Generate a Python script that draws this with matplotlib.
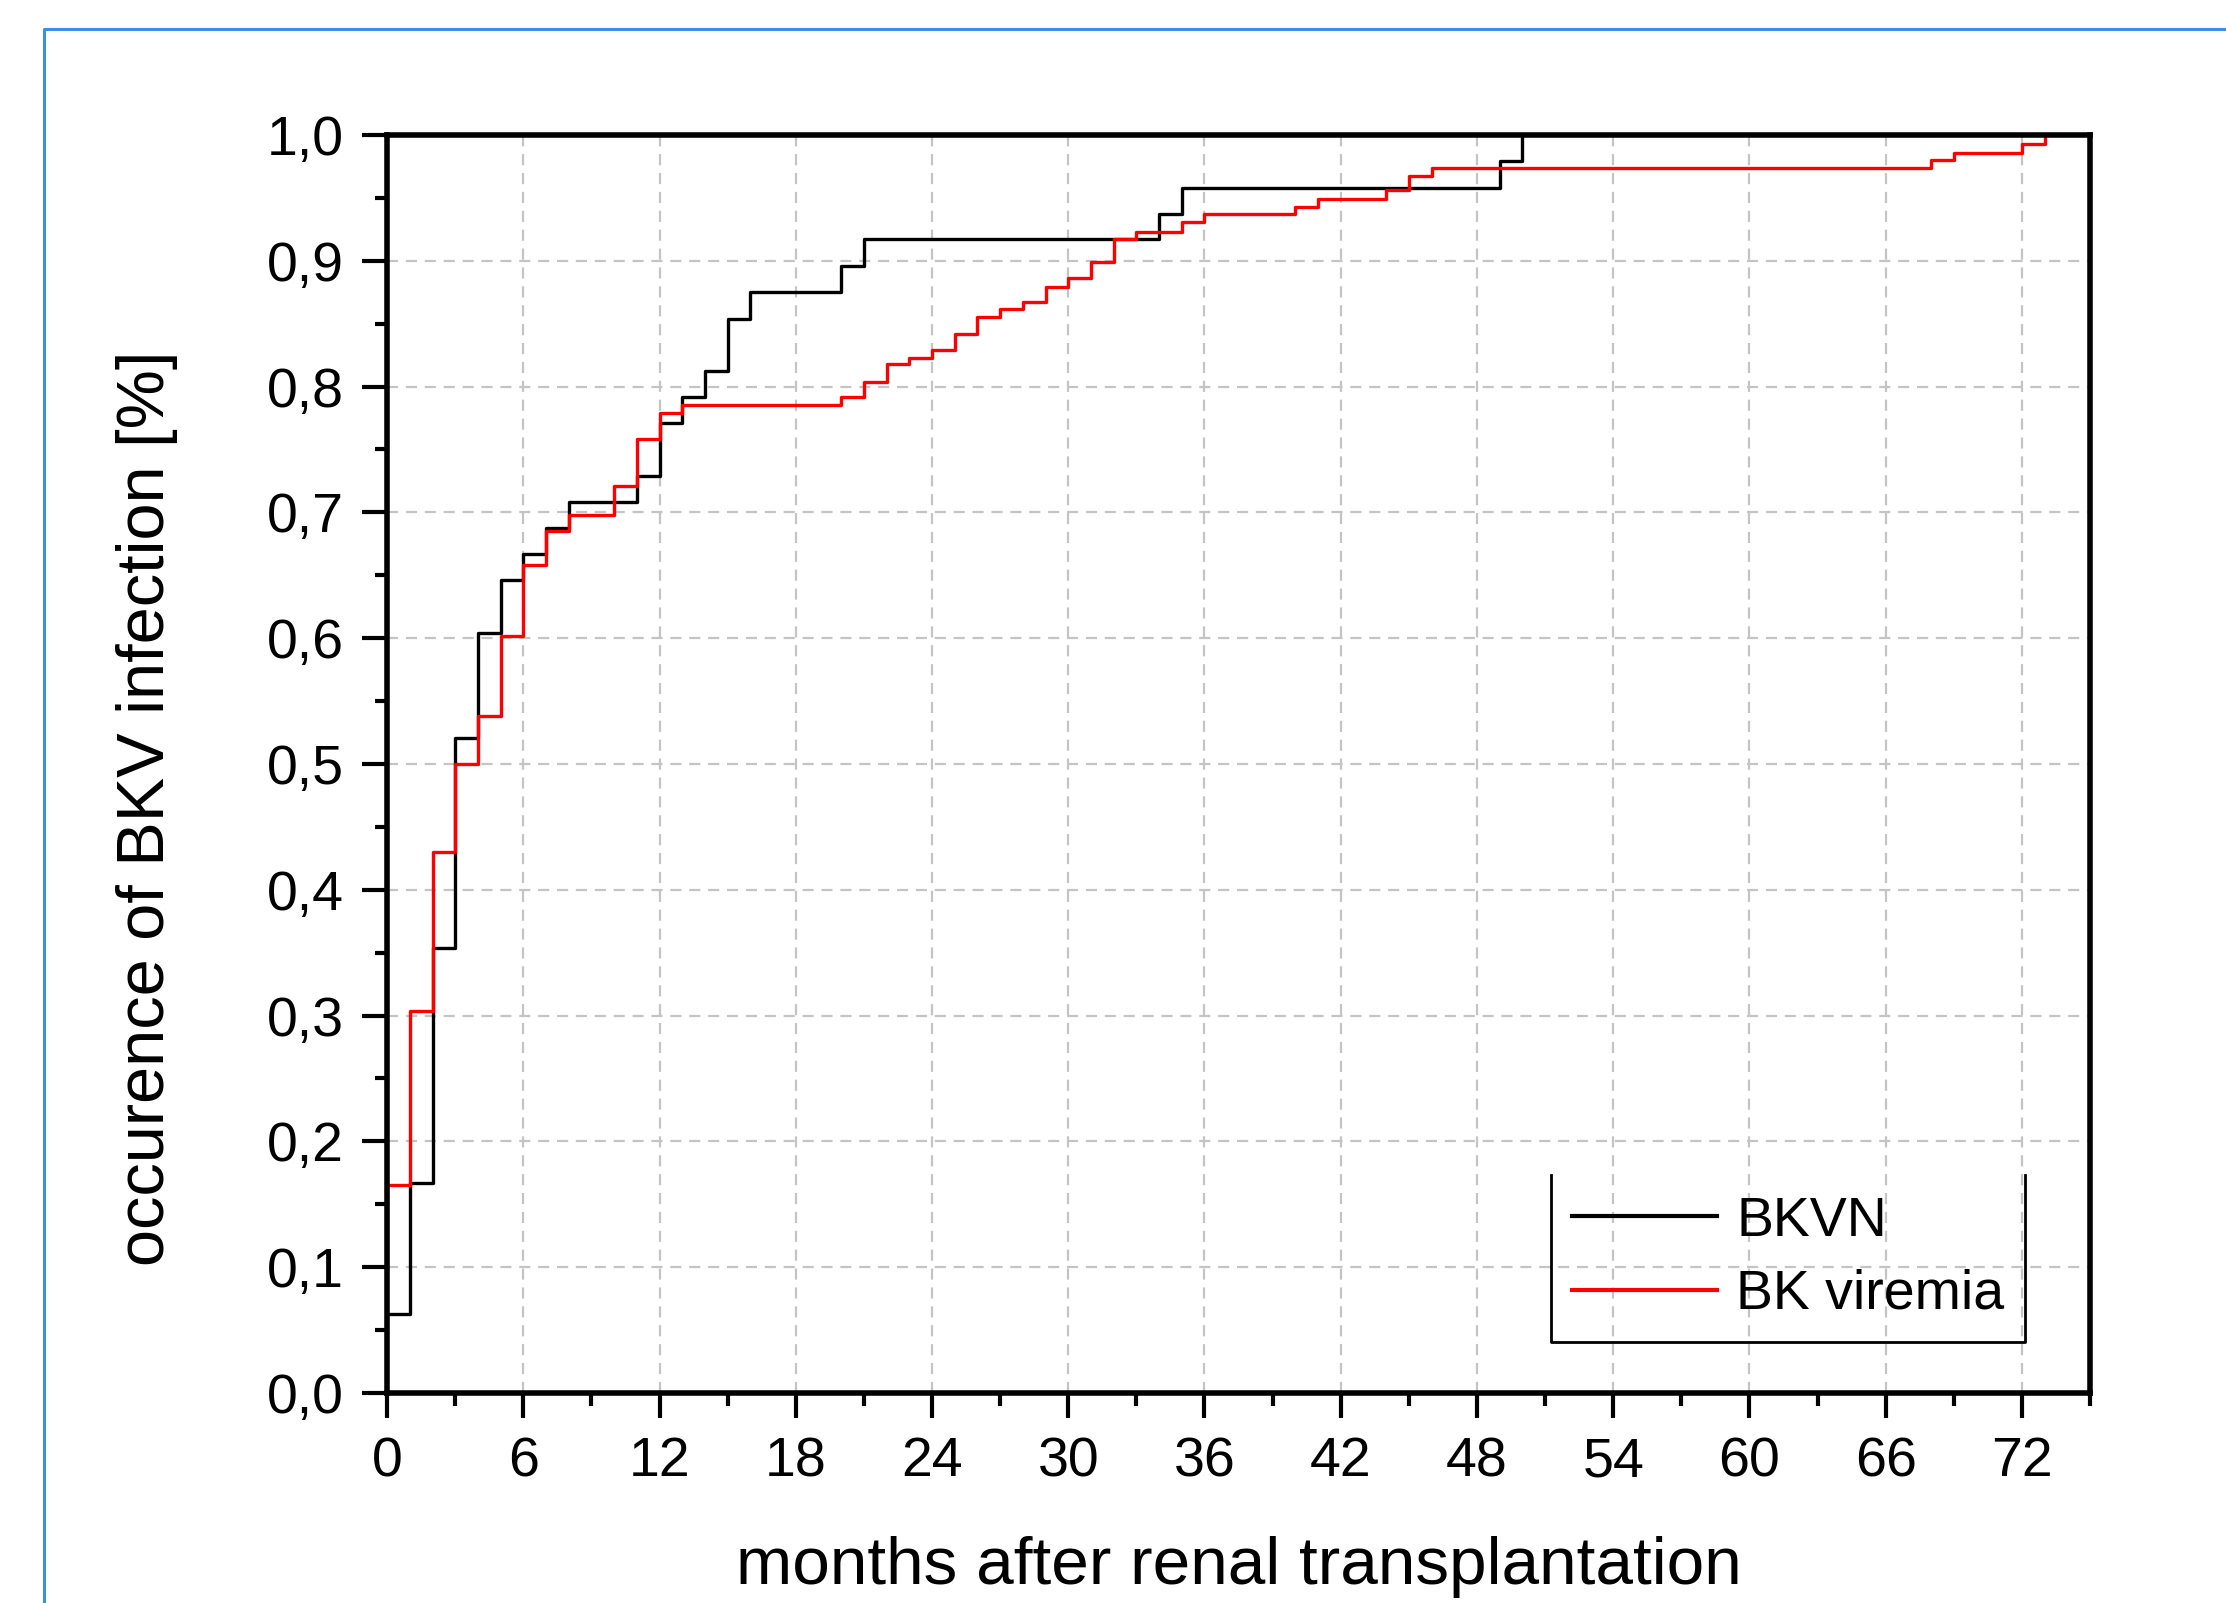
import numpy as np
import matplotlib.pyplot as plt
from matplotlib.lines import Line2D
from matplotlib.ticker import MultipleLocator

plt.rcParams['font.family'] = ['Liberation Sans', 'DejaVu Sans']

# cumulative occurrence (step after each month)
bkvn_months = [0, 1, 2, 3, 4, 5, 6, 7, 8, 11, 12, 13, 14, 15, 16, 20, 21, 34, 35, 49, 50]
bkvn_values = [0.0625, 0.167, 0.354, 0.521, 0.604, 0.646, 0.667, 0.6875, 0.708, 0.729,
               0.771, 0.792, 0.8125, 0.854, 0.875, 0.896, 0.917, 0.9375, 0.958, 0.979, 1.0]

viremia_months = [0, 0, 1, 2, 3, 4, 5, 6, 7, 8, 10, 11, 12, 13, 20, 21, 22, 23, 24, 25, 26,
                  27, 28, 29, 30, 31, 32, 33, 35, 36, 40, 41, 44, 45, 46, 68, 69, 72, 73]
viremia_values = [0.100, 0.165, 0.304, 0.430, 0.500, 0.538, 0.602, 0.658, 0.685, 0.698,
                  0.721, 0.758, 0.779, 0.785, 0.792, 0.804, 0.818, 0.823, 0.829, 0.842,
                  0.855, 0.862, 0.867, 0.879, 0.886, 0.899, 0.917, 0.923, 0.931, 0.937,
                  0.943, 0.949, 0.956, 0.967, 0.974, 0.980, 0.986, 0.993, 1.000]

x_ticks = list(range(0, 73, 6))
y_ticks = [0.0, 0.1, 0.2, 0.3, 0.4, 0.5, 0.6, 0.7, 0.8, 0.9, 1.0]
y_tick_labels = ['0,0', '0,1', '0,2', '0,3', '0,4', '0,5', '0,6', '0,7', '0,8', '0,9', '1,0']

fig = plt.figure(figsize=(11.13, 8.015), dpi=200)
ax = fig.add_axes([0.1739, 0.1310, 0.7650, 0.7848])

# blue frame round the picture (left and top edges visible)
fig.add_artist(Line2D([0.0198, 0.0198, 1.0], [0.0, 0.9819, 0.9819],
                      transform=fig.transFigure, color='#3d8ee0', lw=1.1))

ax.step(bkvn_months, bkvn_values, where='post', color='black', lw=1.2, label='BKVN')
ax.step(viremia_months, viremia_values, where='post', color='#ff0000', lw=1.2, label='BK viremia')

ax.set_xlim(0, 75)
ax.set_ylim(0, 1.0)
ax.set_xticks(x_ticks)
ax.set_yticks(y_ticks)
ax.set_yticklabels(y_tick_labels)
ax.xaxis.set_minor_locator(MultipleLocator(3))
ax.yaxis.set_minor_locator(MultipleLocator(0.05))

ax.grid(True, which='major', color='#c4c4c4', lw=0.8, linestyle=(0, (5, 3.5)))
ax.set_axisbelow(True)

for s in ax.spines.values():
    s.set_linewidth(2.0)
ax.tick_params(which='major', direction='out', length=9, width=1.5, labelsize=20, pad=6.5)
ax.tick_params(which='minor', direction='out', length=4.5, width=1.5)

ax.set_xlabel('months after renal transplantation', fontsize=24.3)
ax.set_ylabel('occurence of BKV infection [%]', fontsize=24)
ax.xaxis.set_label_coords(0.5, -0.114)
ax.yaxis.set_label_coords(-0.123, 0.465)

leg = ax.legend(loc='lower right', bbox_to_anchor=(0.962, 0.0405), borderaxespad=0,
                fontsize=20, frameon=False,
                handlelength=2.6, handletextpad=0.35, borderpad=0.38, labelspacing=0.38)
for h in leg.get_lines():
    h.set_linewidth(1.5)

# legend box drawn open at the top, like the original
fig.canvas.draw()
bb = leg.get_window_extent().transformed(fig.transFigure.inverted())
fig.add_artist(Line2D([bb.x0, bb.x0, bb.x1, bb.x1], [bb.y1, bb.y0, bb.y0, bb.y1],
                      transform=fig.transFigure, color='black', lw=1.0))

fig.savefig('out.png', dpi=200)
